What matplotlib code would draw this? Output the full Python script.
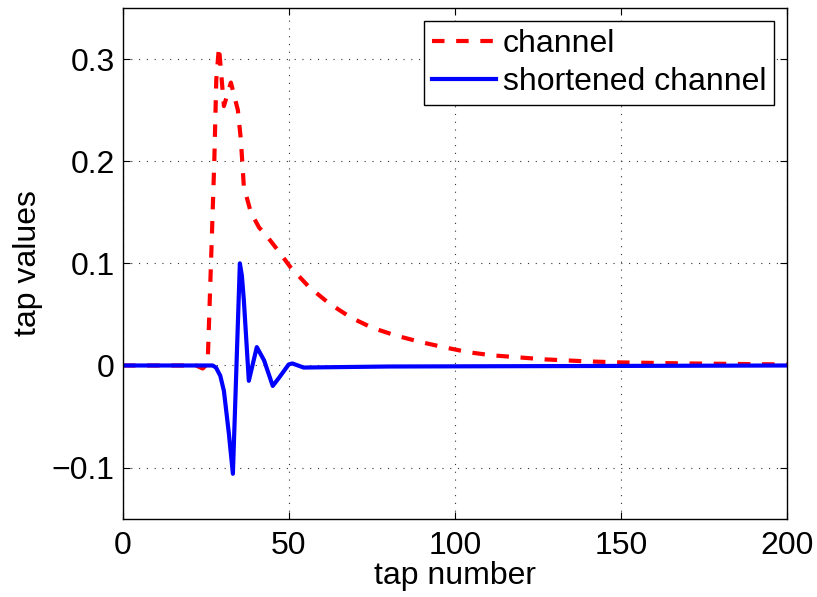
import matplotlib
matplotlib.use("Agg")
import matplotlib.pyplot as plt

# channel impulse response (tap index, tap value)
channel_taps = [0, 22, 24, 25.5, 26.6, 27.5, 28.1, 28.9, 30.4, 32.5, 34.6, 35.5,
                36.4, 38.5, 41, 43, 46.6, 50.5, 56, 62, 68.6, 75, 82, 89.6,
                96.5, 104, 111, 119, 127, 140, 150, 170, 200]
channel_vals = [0.0, 0.0, -0.003, 0.002, 0.11, 0.2, 0.28, 0.312, 0.254, 0.277, 0.25, 0.221,
                0.175, 0.15, 0.135, 0.128, 0.113, 0.096, 0.077, 0.061, 0.047, 0.037, 0.0295, 0.023,
                0.018, 0.013, 0.010, 0.008, 0.006, 0.004, 0.003, 0.002, 0.001]

# shortened channel response
short_taps = [0, 27, 28, 29.3, 30.4, 31.9, 33.1, 35.2, 35.8, 36.4, 37.9, 40.3, 42.5, 45.1,
              47, 49.9, 51, 54.4, 80, 200]
short_vals = [0.0, 0.0, -0.002, -0.010, -0.025, -0.067, -0.106, 0.100, 0.088, 0.064, -0.015,
              0.018, 0.005, -0.020, -0.012, 0.001, 0.002, -0.002, -0.001, 0.0]

x_ticks = [0, 50, 100, 150, 200]
y_ticks = [-0.1, 0, 0.1, 0.2, 0.3]
y_tick_labels = ["\u22120.1", "0", "0.1", "0.2", "0.3"]

plt.rcParams['font.family'] = ['Liberation Sans', 'DejaVu Sans']
FS = 23

fig = plt.figure(figsize=(8.17, 5.97), dpi=100)
ax = fig.add_axes([123 / 817, 1 - 518.7 / 597, (787 - 123) / 817, (518.7 - 8) / 597])

ax.plot(channel_taps, channel_vals, color='red', linestyle=(0, (3.0, 2.8)), linewidth=3.0,
        label='channel')
ax.plot(short_taps, short_vals, color='blue', linestyle='-', linewidth=3.0,
        label='shortened channel')

ax.set_xlim(0, 200)
ax.set_ylim(-0.15, 0.35)
ax.set_xticks(x_ticks)
ax.set_yticks(y_ticks)
ax.set_yticklabels(y_tick_labels)
ax.tick_params(direction='in', top=True, right=True, labelsize=FS, length=5, width=0.8)
ax.tick_params(axis='x', pad=9)
ax.tick_params(axis='y', pad=6)
ax.grid(True, linestyle=(0, (1, 6)), color='0.2', linewidth=0.8)
for s in ax.spines.values():
    s.set_linewidth(1.0)

ax.set_xlabel('tap number', fontsize=FS, labelpad=0)
ax.set_ylabel('tap values', fontsize=FS, labelpad=6)

leg = ax.legend(loc='upper right', fontsize=FS, frameon=True, fancybox=False,
                edgecolor='black', framealpha=1, borderaxespad=0.4,
                handlelength=2.0, handletextpad=0.2, labelspacing=0.25, borderpad=0.25)
leg.get_frame().set_linewidth(1.0)

fig.savefig('out.png', dpi=100)
